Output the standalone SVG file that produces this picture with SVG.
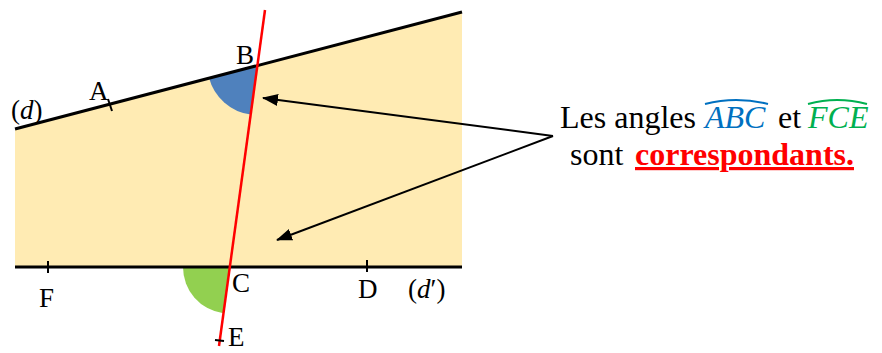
<svg xmlns="http://www.w3.org/2000/svg" width="882" height="353" viewBox="0 0 882 353">
<style>
.lbl{font-family:"Liberation Serif",serif;font-size:27px;fill:#000}
.txt{font-family:"Liberation Serif",serif;font-size:32px;fill:#000}
.ln{stroke:#000;stroke-width:3;fill:none}
.tick{stroke:#000;stroke-width:2;fill:none}
.arr{stroke:#000;stroke-width:2;fill:none;marker-end:url(#ah)}
</style>
<defs>
<marker id="ah" markerWidth="16" markerHeight="12" refX="15" refY="6" orient="auto" markerUnits="userSpaceOnUse" viewBox="0 0 16 12">
<path d="M0,0 L16,6 L0,12 Z" fill="#000"/>
</marker>
</defs>
<g id="region">
<polygon points="15,130 462,12 462,267 15,267" fill="#FFEBB3"/>
</g>
<g id="angle-ABC">
<path d="M257.4,65 L209,77.7 A50,50 0 0 0 250.6,114.5 Z" fill="#4F81BD"/>
</g>
<g id="angle-FCE">
<path d="M229.7,267 L183,267 A46.7,46.7 0 0 0 223.3,313.3 Z" fill="#92D050"/>
</g>
<g id="line-d">
<line class="ln" x1="15" y1="129" x2="462" y2="12"/>
<line class="tick" x1="108" y1="99" x2="112" y2="111"/>
<text class="lbl" x="89" y="100">A</text>
<text class="lbl" x="236" y="64">B</text>
<text class="lbl" x="11" y="119" font-size="29">(<tspan font-style="italic">d</tspan>)</text>
</g>
<g id="line-d-prime">
<line class="ln" x1="15" y1="267" x2="462" y2="267"/>
<line class="tick" x1="48" y1="261" x2="48" y2="273"/>
<line class="tick" x1="367" y1="260" x2="367" y2="272"/>
<text class="lbl" x="39" y="307">F</text>
<text class="lbl" x="232" y="292">C</text>
<text class="lbl" x="358" y="298">D</text>
<text class="lbl" x="408" y="298" font-size="29">(<tspan font-style="italic">d</tspan>′)</text>
</g>
<g id="secant">
<line x1="265" y1="10" x2="219" y2="346" stroke="#FF0000" stroke-width="2.5"/>
<line class="tick" x1="215" y1="340" x2="224" y2="341"/>
<text class="lbl" x="228" y="346">E</text>
</g>
<g id="connectors">
<line class="arr" x1="553" y1="136" x2="263" y2="98"/>
<line class="arr" x1="553" y1="136" x2="277" y2="240"/>
</g>
<g id="caption">
<text class="txt" y="128"><tspan x="560">Les angles</tspan><tspan x="705" fill="#0070C0" font-style="italic">ABC</tspan><tspan x="778">et</tspan><tspan x="808" fill="#00B050" font-style="italic">FCE</tspan></text>
<path d="M705,104 Q736,96 768,104" stroke="#0070C0" stroke-width="2" fill="none"/>
<path d="M808,104 Q837,96 867,104" stroke="#00B050" stroke-width="2" fill="none"/>
<text class="txt" y="165"><tspan x="570">sont</tspan><tspan x="635" fill="#FF0000" font-weight="bold" text-decoration="underline">correspondants.</tspan></text>
</g>
</svg>
